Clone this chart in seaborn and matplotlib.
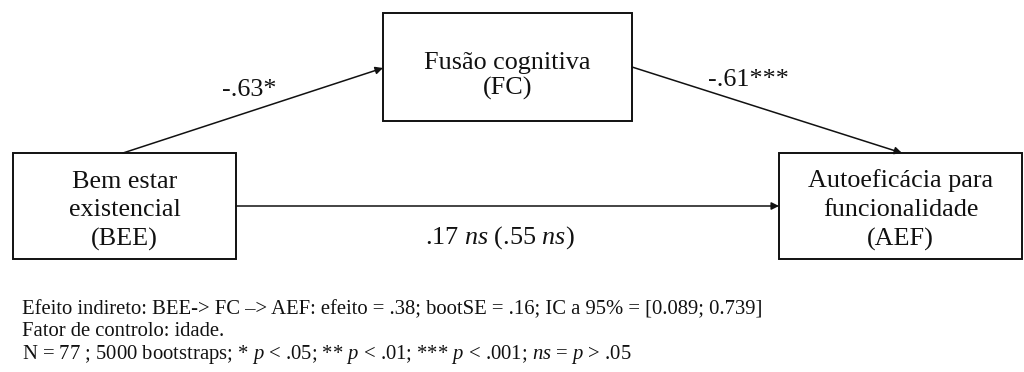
import matplotlib
matplotlib.use("Agg")
import matplotlib.pyplot as plt
from matplotlib.patches import Rectangle
import seaborn as sns

# Diagram content
node_names = ["BEE", "FC", "AEF"]
node_labels = ["Bem estar\nexistencial\n(BEE)",
               "Fusão cognitiva\n(FC)",
               "Autoeficácia para\nfuncionalidade\n(AEF)"]
# box corners in pixel space (left, top, right, bottom)
node_boxes = [(13, 153, 236, 259), (383, 13, 632, 121), (779, 153, 1022, 259)]
node_text_y = [211, 76, 210]
node_spacing = [1.38, 1.2, 1.38]

paths = [("BEE", "FC"), ("FC", "AEF"), ("BEE", "AEF")]
path_labels = ["-.63*", "-.61***", r".17 $\mathit{ns}$ (.55 $\mathit{ns}$)"]
path_starts = [(123, 153), (632, 67), (236, 206)]
path_ends = [(383, 68), (902, 153), (779, 206)]
label_pos = [(249, 90), (748, 80), (500, 238)]

notes = [
    "Efeito indireto: BEE-> FC –> AEF: efeito = .38; bootSE = .16; IC a 95% = [0.089; 0.739]",
    "Fator de controlo: idade.",
    r"N = 77 ; 5000 bootstraps; * $\mathit{p}$ < .05; ** $\mathit{p}$ < .01; *** $\mathit{p}$ < .001; $\mathit{ns}$ = $\mathit{p}$ > .05",
]
note_y = [310, 332, 354]

sns.set_theme(style="white")
plt.rcParams["font.family"] = ["Liberation Serif", "DejaVu Serif"]
plt.rcParams["mathtext.fontset"] = "custom"
plt.rcParams["mathtext.rm"] = "Liberation Serif"
plt.rcParams["mathtext.it"] = "Liberation Serif:italic"

fig, ax = plt.subplots(figsize=(10.24, 3.72), dpi=100)
fig.subplots_adjust(left=0, right=1, top=1, bottom=0)
ax.set_xlim(0, 1024)
ax.set_ylim(372, 0)
ax.axis("off")

ink = "#111111"

# boxes
for (l, t, r, b), lab, ty, sp in zip(node_boxes, node_labels, node_text_y, node_spacing):
    ax.add_patch(Rectangle((l, t), r - l, b - t, fill=False, lw=1.4, ec=ink))
    ax.text((l + r) / 2, ty, lab, ha="center", va="center", fontsize=18.8,
            color=ink, linespacing=sp)

# arrows
for s, e in zip(path_starts, path_ends):
    ax.annotate("", xy=e, xytext=s,
                arrowprops=dict(arrowstyle="-|>", color=ink, lw=1.1,
                                mutation_scale=11, shrinkA=0, shrinkB=0))

for (x, y), lab in zip(label_pos, path_labels):
    ax.text(x, y, lab, ha="center", va="center", fontsize=18.8, color=ink)

# footnote
for y, line in zip(note_y, notes):
    ax.text(22, y, line, ha="left", va="center", fontsize=14.9, color=ink)

fig.savefig("out.png", dpi=100)
